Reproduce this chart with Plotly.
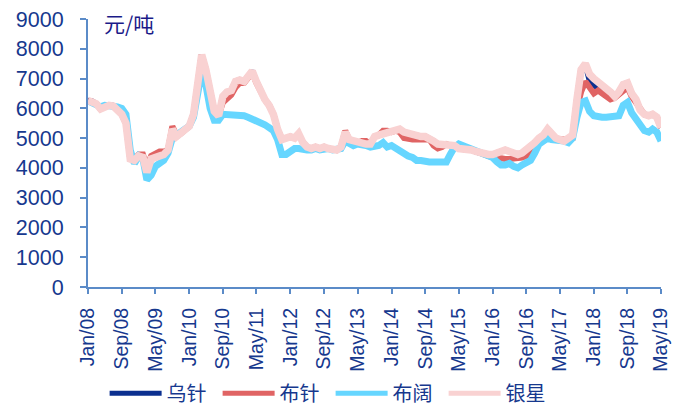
import pandas as pd
import plotly.graph_objects as go

series_names = ["乌针", "布针", "布阔", "银星"]

# 银星 (monthly, Jan 2008 - May 2019)
yinxing = [6260, 6230, 6150, 5980, 6050, 6100, 6080, 5950, 5800, 5500,
           4300, 4250, 4400, 4350, 3850, 4300, 4350, 4400, 4450, 4600,
           5300, 5050, 5150, 5250, 5400, 5800, 6600, 7800, 7300, 6500,
           5900, 5750, 6400, 6550, 6600, 6900, 6950, 6900, 7100, 7250,
           6900, 6550, 6300, 6100, 5800, 5300, 4950, 5000, 5050, 5000,
           5150, 4850, 4700, 4650, 4700, 4650, 4700, 4650, 4650, 4600,
           4700, 5200, 4950, 4900, 4850, 4850, 4800, 4800, 5050, 5100,
           5150, 5200, 5200, 5250, 5300, 5200, 5150, 5100, 5050, 5050,
           5050, 5000, 4900, 4800, 4800, 4800, 4750, 4750, 4650, 4650,
           4600, 4600, 4550, 4500, 4500, 4450, 4450, 4500, 4550, 4600,
           4550, 4500, 4450, 4500, 4600, 4700, 4850, 5000, 5100, 5300,
           5150, 5000, 4950, 4900, 5000, 5100, 6300, 7300, 7500, 7150,
           7000, 6900, 6800, 6650, 6550, 6400, 6550, 6800, 6850, 6500,
           6300, 5950, 5800, 5750, 5800, 5700, 5350]

# 乌针
wuzhen = [6260, 6230, 6150, 5980, 6050, 6100, 6080, 5950, 5800, 5500,
          4300, 4250, 4400, 4350, 3850, 4300, 4350, 4400, 4450, 4600,
          5300, 5050, 5150, 5250, 5400, 5800, 6600, 7800, 7300, 6500,
          5900, 5750, 6400, 6550, 6600, 6900, 6950, 6900, 7100, 7250,
          6900, 6550, 6300, 6100, 5800, 5300, 4950, 5000, 5050, 5000,
          5150, 4850, 4700, 4650, 4700, 4650, 4700, 4650, 4650, 4600,
          4700, 5200, 4950, 4900, 4850, 4850, 4800, 4800, 5050, 5100,
          5150, 5200, 5200, 5250, 5300, 5200, 5150, 5100, 5050, 5050,
          5050, 5000, 4900, 4800, 4800, 4800, 4750, 4750, 4650, 4650,
          4600, 4600, 4550, 4500, 4500, 4450, 4450, 4500, 4550, 4600,
          4550, 4500, 4450, 4500, 4600, 4700, 4850, 5000, 5100, 5300,
          5150, 5000, 4950, 4900, 5000, 5100, 6300, 7300, 7500, 6950,
          6780, 6700, 6650, 6550, 6550, 6400, 6550, 6800, 6850, 6500,
          6300, 5950, 5800, 5750, 5800, 5700, 5350]

# 布针
buzhen = [6260, 6230, 6150, 5980, 6050, 6100, 6080, 5950, 5800, 5500,
          4400, 4300, 4450, 4450, 4050, 4400, 4500, 4550, 4550, 4600,
          5400, 5100, 5150, 5250, 5400, 5800, 6600, 7800, 7300, 6400,
          5850, 5750, 6200, 6350, 6450, 6700, 6850, 6850, 7050, 7200,
          6850, 6550, 6300, 6100, 5800, 5300, 4950, 5000, 5050, 5000,
          5150, 4850, 4700, 4650, 4700, 4650, 4700, 4650, 4650, 4600,
          4700, 5250, 4950, 4900, 4850, 4900, 4900, 4800, 5050, 5100,
          5250, 5250, 5200, 5250, 5200, 5000, 4950, 4950, 4950, 4950,
          4950, 4950, 4750, 4650, 4700, 4800, 4750, 4750, 4650, 4650,
          4600, 4600, 4550, 4500, 4450, 4400, 4350, 4350, 4300, 4300,
          4300, 4300, 4300, 4350, 4400, 4550, 4800, 4950, 4950, 5150,
          5000, 4950, 4950, 4950, 4950, 5000, 6000, 6550, 6900, 6700,
          6500, 6600, 6500, 6400, 6300, 6350, 6450, 6600, 6700, 6400,
          6200, 5950, 5800, 5750, 5800, 5700, 5350]

# 布阔
bukuo = [6250, 6200, 6150, 6050, 6100, 6100, 6100, 6050, 6000, 5800,
         4600, 4150, 4400, 4300, 3600, 3750, 4050, 4150, 4250, 4500,
         5000, 5100, 5200, 5300, 5400, 5700, 6400, 7250, 6800, 6000,
         5600, 5600, 5800, 5800, 5800, 5800, 5750, 5750, 5700, 5650,
         5600, 5500, 5450, 5350, 5250, 4950, 4450, 4450, 4550, 4650,
         4650, 4600, 4600, 4600, 4650, 4600, 4650, 4650, 4600, 4600,
         4650, 4900, 4800, 4750, 4800, 4800, 4750, 4700, 4700, 4750,
         4850, 4700, 4750, 4650, 4550, 4500, 4400, 4350, 4250, 4250,
         4200, 4200, 4200, 4200, 4200, 4200, 4450, 4700, 4800, 4750,
         4650, 4600, 4550, 4500, 4450, 4400, 4350, 4200, 4100, 4100,
         4150, 4050, 4000, 4100, 4150, 4250, 4500, 4800, 4900, 5000,
         4950, 4950, 4950, 4900, 4850, 5000, 5700, 6200, 6250, 5900,
         5750, 5700, 5700, 5700, 5700, 5750, 5750, 6100, 6200, 5850,
         5650, 5400, 5250, 5200, 5300, 5200, 4900]

y_ticks = [0, 1000, 2000, 3000, 4000, 5000, 6000, 7000, 8000, 9000]

dates = pd.date_range("2008-01-01", periods=len(yinxing), freq="MS")

colors = ["#0B2F8F", "#E06464", "#66D6FF", "#F9D2D2"]
widths = [6, 6, 7, 7.5]
values = [wuzhen, buzhen, bukuo, yinxing]

fig = go.Figure()
for name, vals, c, w in zip(series_names, values, colors, widths):
    fig.add_trace(go.Scatter(x=dates, y=vals, name=name, mode="lines",
                             line=dict(color=c, width=w)))

tick_color = "#16388E"
axis_color = "#5B8BC8"

fig.update_layout(
    width=675, height=407,
    margin=dict(l=88, r=14, t=19, b=120, autoexpand=False),
    paper_bgcolor="white", plot_bgcolor="white",
    showlegend=True,
    legend=dict(orientation="h", x=0.029, y=-0.324, xanchor="left", yanchor="top",
                font=dict(family="Noto Sans CJK SC", size=20, color=tick_color),
                entrywidth=46, entrywidthmode="pixels", itemwidth=52,
                bgcolor="rgba(0,0,0,0)", itemsizing="constant", tracegroupgap=0),
    annotations=[dict(text="元/吨", xref="paper", yref="paper", x=0.025, y=0.985,
                      xanchor="left", yanchor="middle", showarrow=False,
                      font=dict(family="Noto Sans CJK SC", size=21, color="#1A1A88"))],
)
fig.update_xaxes(
    type="date", range=["2008-01-01", "2019-05-01"], automargin=False,
    tick0="2008-01-01", dtick="M8", tickformat="%b/%y", tickangle=-90,
    showgrid=False, zeroline=False, showline=True, linecolor=axis_color, linewidth=2,
    ticks="outside", ticklen=5, tickwidth=2, tickcolor=axis_color,
    tickfont=dict(family="Liberation Sans", size=19.5, color=tick_color),
    ticklabelstandoff=6,
)
fig.update_yaxes(
    range=[0, 9000], tickvals=y_ticks, ticktext=[str(v) for v in y_ticks],
    automargin=False,
    showgrid=False, zeroline=False, showline=True, linecolor=axis_color, linewidth=2,
    ticks="outside", ticklen=6, tickwidth=2, tickcolor=axis_color,
    tickfont=dict(family="Liberation Sans", size=21.5, color=tick_color),
    ticklabelstandoff=12,
)

fig.write_html("out.html")
